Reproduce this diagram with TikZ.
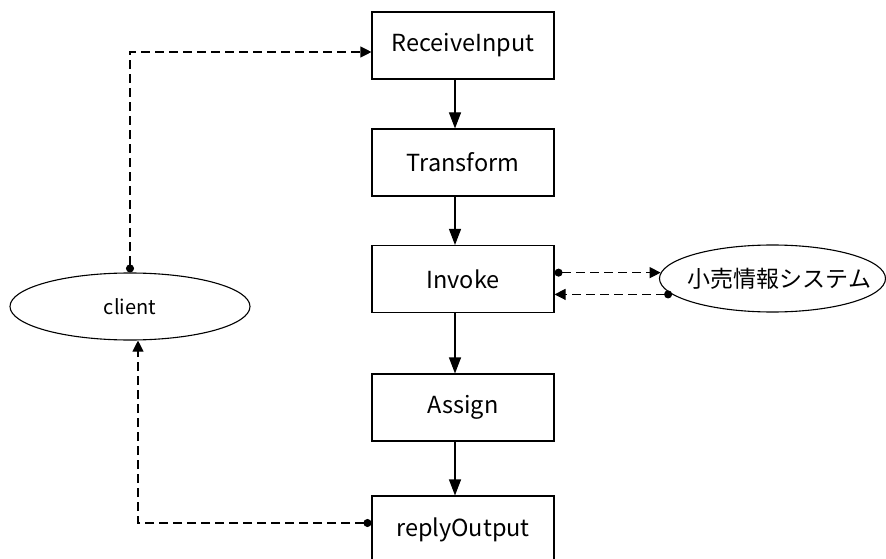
\documentclass[tikz,border=0pt]{standalone}
\usepackage{fontspec}
\setmainfont{Noto Sans CJK JP}
\usetikzlibrary{arrows.meta,shapes.geometric}
\begin{document}
\begin{tikzpicture}[x=1pt,y=-1pt,
  stepbox/.style={draw,line width=1.1pt,minimum width=182pt,minimum height=67pt,
    inner sep=0pt,font=\fontsize{23.5}{26}\selectfont},
  actor/.style={draw,ellipse,line width=1.1pt,inner sep=0pt},
  flow/.style={line width=1.1pt,-{Triangle[length=16pt,width=12pt]}},
  msg/.style={line width=1.1pt,dash pattern=on 9pt off 5pt},
  msgtip/.style={{Circle[length=8pt]}-{Triangle[length=11pt,width=11pt]}}]
\useasboundingbox (0,0) rectangle (886,559);

% process steps
\node[stepbox] (RI) at (463,45.5)  {ReceiveInput};
\node[stepbox] (TR) at (463,162.5) {Transform};
\node[stepbox] (IN) at (463,279)   {Invoke};
\node[stepbox] (AS) at (463,407.5) {Assign};
\node[stepbox] (RO) at (463,529.5) {replyOutput};

% partners
\node[actor,minimum width=240pt,minimum height=67pt,font=\fontsize{20}{23}\selectfont]
  (client) at (130,306.5) {client};
\node[actor,minimum width=226pt,minimum height=67pt,inner xsep=-24pt,
  font=\fontsize{23}{26}\selectfont]
  (sys) at (772.5,278.5) {\hspace{14pt}小売情報システム};

% control flow
\draw[flow] ([xshift=-8pt]RI.south) -- ([xshift=-8pt]TR.north);
\draw[flow] ([xshift=-8pt]TR.south) -- ([xshift=-8pt]IN.north);
\draw[flow] ([xshift=-8pt]IN.south) -- ([xshift=-8pt]AS.north);
\draw[flow] ([xshift=-8pt]AS.south) -- ([xshift=-8pt]RO.north);

% message links
\draw[msg,msgtip] (client.north) |- ([yshift=-6.5pt]RI.west);
\draw[msg,msgtip] ([yshift=6.5pt]RO.west) -| ([xshift=8pt]client.south);
\draw[msg,msgtip] (IN.east |- sys.177) -- (sys.177);
\draw[msg,msgtip] (sys.189) -- (IN.east |- sys.189);
\end{tikzpicture}
\end{document}
